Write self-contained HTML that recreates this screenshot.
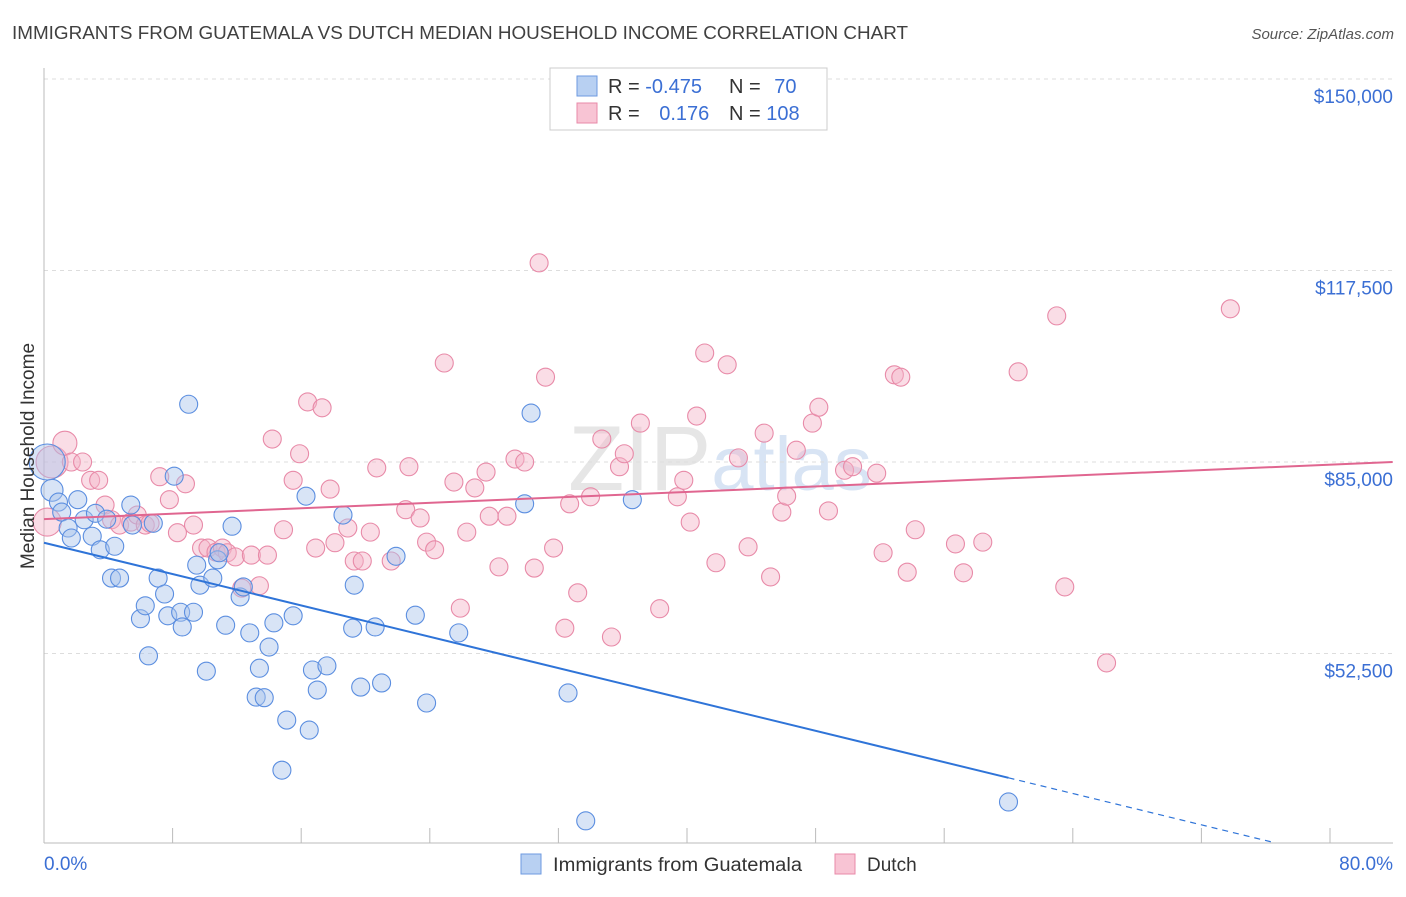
<!DOCTYPE html>
<html><head><meta charset="utf-8">
<style>
body{margin:0;background:#fff;font-family:"Liberation Sans",sans-serif;}
svg text{font-family:"Liberation Sans",sans-serif;}
</style></head>
<body>
<svg id="chart" width="1406" height="892" viewBox="0 0 1406 892" xmlns="http://www.w3.org/2000/svg">
<text x="12" y="39" font-size="18" fill="#404040" textLength="896" lengthAdjust="spacingAndGlyphs">IMMIGRANTS FROM GUATEMALA VS DUTCH MEDIAN HOUSEHOLD INCOME CORRELATION CHART</text>
<text x="1394" y="39" font-size="15" fill="#555" font-style="italic" text-anchor="end">Source: ZipAtlas.com</text>
<text x="720" y="490" font-size="92" fill="#e6e6e6" text-anchor="middle" font-family="Liberation Serif">ZIP<tspan fill="#d8e4f4" font-family="Liberation Sans" font-size="76">atlas</tspan></text>
<g id="grid"></g>
<g id="axes"></g>
<g id="pts"></g>
<g id="lines"></g>
<text transform="translate(34,456) rotate(-90)" font-size="19" fill="#333" text-anchor="middle">Median Household Income</text>
<text x="44" y="870" font-size="19" fill="#3b6fd4">0.0%</text>
<text x="1393" y="870" font-size="19" fill="#3b6fd4" text-anchor="end">80.0%</text>
<g>
<rect x="550" y="68" width="277" height="62" fill="#fff" stroke="#ccc"/>
<rect x="577" y="76" width="20" height="20" fill="#b8d0f2" stroke="#6e9ae0"/>
<rect x="577" y="103" width="20" height="20" fill="#f8c4d4" stroke="#e88aa8"/>
<text x="608" y="93" font-size="20" fill="#333">R = <tspan fill="#3b6fd4">-0.475</tspan></text>
<text x="729" y="93" font-size="20" fill="#333">N = <tspan fill="#3b6fd4" dx="8">70</tspan></text>
<text x="608" y="120" font-size="20" fill="#333">R = <tspan fill="#3b6fd4" dx="14">0.176</tspan></text>
<text x="729" y="120" font-size="20" fill="#333">N = <tspan fill="#3b6fd4">108</tspan></text>
</g>
<g>
<rect x="521" y="854" width="20" height="20" fill="#b8d0f2" stroke="#6e9ae0"/>
<text x="553" y="871" font-size="19" fill="#333" textLength="249" lengthAdjust="spacingAndGlyphs">Immigrants from Guatemala</text>
<rect x="835" y="854" width="20" height="20" fill="#f8c4d4" stroke="#e88aa8"/>
<text x="867" y="871" font-size="19" fill="#333">Dutch</text>
</g>
</svg>
<script>
const yTicks=[150000,117500,85000,52500];
const yTickLabels=["$150,000","$117,500","$85,000","$52,500"];
const xTicks=[0,8,16,24,32,40,48,56,64,72,80];
const blueX=[0.5,0.9,1.1,1.5,1.7,2.1,2.5,3.0,3.2,3.5,3.9,4.2,4.4,4.7,5.4,5.5,6.0,6.3,6.5,6.8,7.1,7.5,7.7,8.1,8.5,8.6,9.0,9.3,9.5,9.7,10.1,10.5,10.8,10.9,11.3,11.7,12.2,12.4,12.8,13.2,13.4,13.7,14.0,14.3,14.8,15.1,15.5,16.3,16.5,16.7,17.0,17.6,18.6,19.2,19.3,19.7,20.6,21.0,21.9,23.1,23.8,25.8,29.9,30.3,32.6,33.7,36.6,60.0,0.2];
const blueY=[80.2,78.2,76.5,73.8,72.1,78.6,75.2,72.4,76.3,70.1,75.3,65.3,70.7,65.3,77.7,74.3,58.4,60.6,52.1,74.6,65.3,62.6,58.9,82.6,59.5,57.0,94.8,59.5,67.5,64.1,49.5,65.3,68.4,69.6,57.3,74.1,62.1,63.8,56.0,45.1,50.0,45.0,53.6,57.7,32.7,41.2,58.9,79.2,39.5,49.7,46.3,50.4,76.0,56.8,64.1,46.8,57.0,47.5,69.0,59.0,44.1,56.0,77.9,93.3,45.8,24.1,78.6,27.3,85.0];
const pinkX=[0.2,0.5,1.3,1.7,2.4,2.9,3.4,3.8,4.2,4.7,5.4,5.8,6.3,6.6,7.2,7.8,8.3,8.8,9.3,9.8,10.2,10.7,11.1,11.4,11.9,12.3,12.9,13.4,13.9,14.2,14.9,15.5,15.9,16.4,16.9,17.3,17.8,18.1,18.9,19.3,19.8,20.3,20.7,21.6,22.5,22.7,23.4,23.8,24.3,24.9,25.5,25.9,26.3,26.8,27.5,27.7,28.3,28.8,29.3,29.9,30.5,30.8,31.2,31.7,32.4,32.7,33.2,34.0,34.7,35.3,35.8,36.1,37.1,38.3,39.4,39.8,40.2,40.6,41.1,41.8,42.5,43.2,43.8,44.8,45.2,45.9,46.2,46.8,47.8,48.2,48.8,49.8,50.3,51.8,52.2,52.9,53.3,53.7,54.2,56.7,57.2,58.4,60.6,63.0,63.5,66.1,73.8];
const pinkY=[74.8,85.0,88.2,85.0,85.0,81.9,81.9,77.7,75.2,74.3,74.8,76.0,74.3,74.6,82.5,78.6,73.0,81.3,74.3,70.4,70.4,69.7,70.4,69.6,68.9,63.6,69.2,64.0,69.2,88.9,73.5,81.9,86.4,95.2,70.4,94.2,80.4,71.3,73.8,68.2,68.2,73.1,84.0,68.2,76.9,84.2,75.5,71.4,70.1,101.8,81.6,60.2,73.1,80.6,83.3,75.8,67.2,75.8,85.5,85.0,67.0,118.8,99.4,70.4,56.8,77.9,62.8,79.1,88.9,55.3,84.2,86.4,91.6,60.1,79.1,81.9,74.8,92.8,103.5,67.9,101.5,85.7,70.6,89.9,65.5,76.5,79.2,87.0,91.6,94.3,76.7,83.6,84.2,83.1,69.6,99.8,99.4,66.3,73.5,71.1,66.2,71.4,100.3,109.8,63.8,50.9,111.0];
const blueReg=[71.3,-0.665];
const pinkReg=[75.3,0.1156];
const NS="http://www.w3.org/2000/svg";
function xs(p){return 44+p/80*1286;}
function ys(v){return 462-(v-85000)/32500*191.5;}
function yk(k){return ys(k*1000);}
function mk(tag,attrs,parent){const e=document.createElementNS(NS,tag);for(const k in attrs)e.setAttribute(k,attrs[k]);parent.appendChild(e);return e;}
const grid=document.getElementById('grid'),axes=document.getElementById('axes'),pts=document.getElementById('pts'),lines=document.getElementById('lines');
yTicks.forEach((t,i)=>{
 const l=mk('line',{x1:44,x2:1393,y1:ys(t),y2:ys(t),stroke:'#ddd','stroke-dasharray':'4,4'},grid);
 
 
 const tx=mk('text',{x:1393,y:ys(t)+24,'font-size':19,fill:'#3b6fd4','text-anchor':'end'},grid);
 tx.textContent=yTickLabels[i];
 
 
});
const ax=mk('line',{x1:44,x2:44,y1:68,y2:843,stroke:'#bbb'},axes);


const bx=mk('line',{x1:44,x2:1393,y1:843,y2:843,stroke:'#bbb'},axes);


xTicks.forEach(t=>{
 const l=mk('line',{x1:xs(t),x2:xs(t),y1:828,y2:843,stroke:'#bbb'},axes);
 
 
});
function dot(x,y,r,fill,stroke,name){
 const c=mk('circle',{cx:xs(x),cy:yk(y),r:r,fill:fill,'fill-opacity':0.45,stroke:stroke,'stroke-width':1.1},pts);
 
 
}
pinkX.forEach((x,i)=>dot(x,pinkY[i],i===0?14:(i===1?16:(i===2?12:9)),'#f4b4c8','#e88aa8','dutch-point'));
blueX.forEach((x,i)=>dot(x,blueY[i],i===blueX.length-1?18:(i===0?11:9),'#a8c4ec','#5b8ee0','guatemala-point'));
const bEnd=60.0,bDash=76.6;
const bl=mk('line',{x1:xs(0),y1:yk(blueReg[0]),x2:xs(bEnd),y2:yk(blueReg[0]+blueReg[1]*bEnd),stroke:'#2f74d8','stroke-width':2},lines);


const bd=mk('line',{x1:xs(bEnd),y1:yk(blueReg[0]+blueReg[1]*bEnd),x2:xs(bDash),y2:yk(blueReg[0]+blueReg[1]*bDash),stroke:'#2f74d8','stroke-width':1.2,'stroke-dasharray':'6,5'},lines);


const pEnd=83.9;
const pl=mk('line',{x1:xs(0),y1:yk(pinkReg[0]),x2:xs(pEnd),y2:yk(pinkReg[0]+pinkReg[1]*pEnd),stroke:'#e06690','stroke-width':2},lines);


</script>
</body></html>
